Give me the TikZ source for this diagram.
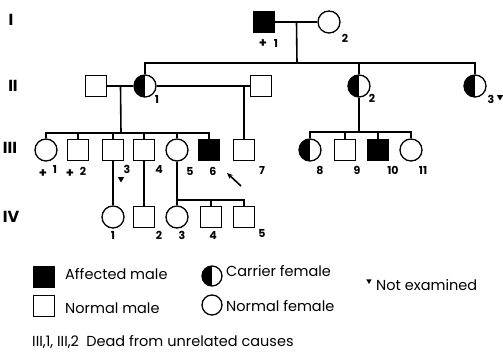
\documentclass[tikz,border=0pt]{standalone}
\usepackage{fontspec}
\setmainfont{Poppins}
\usetikzlibrary{arrows.meta,shapes.geometric,calc}
\tikzset{
  base/.style={inner sep=0pt, text=black},
  male/.style={base, rectangle, draw=black, line width=1.3pt, minimum size=21pt},
  female/.style={base, circle, draw=black, line width=1.3pt, minimum size=22pt},
  affected/.style={male, fill=black},
  carrier/.style={female, path picture={\fill[black] (path picture bounding box.south west) rectangle (path picture bounding box.north);}},
  num/.style={base, font=\fontsize{11}{12}\selectfont\bfseries},
  dead/.style={base, font=\fontsize{13}{14}\selectfont\bfseries},
  gen/.style={base, font=\fontsize{16}{17}\selectfont\bfseries},
  key/.style={base, anchor=west, font=\fontsize{14.5}{15}\selectfont},
  notex/.style={base, regular polygon, regular polygon sides=3, shape border rotate=180, fill=black, minimum size=7pt},
  ln/.style={line width=1.6pt},
  arr/.style={-{Stealth[length=6pt,width=5pt]}, line width=1.6pt},
}
\begin{document}
\begin{tikzpicture}[x=1pt,y=-1pt]
  \useasboundingbox (0,0) rectangle (503,352);
  % generations
  \node[gen] (g1) at (11,20) {I};
  \node[gen] (g2) at (13,86) {II};
  \node[gen] (g3) at (10,148) {III};
  \node[gen] (g4) at (11,217) {IV};
  % generation I
  \node[affected] (i1) at (264,22) {};
  \node[female] (i2) at (329,22) {};
  \node[dead] (d-i1) at (263,44) {+};
  \node[num] (n-i1) at (276,43) {1};
  \node[num] (n-i2) at (345,38) {2};
  % generation II
  \node[male] (h1) at (96,86) {};
  \node[carrier] (ii1) at (145,86) {};
  \node[male] (h2) at (261,86) {};
  \node[carrier] (ii2) at (359,86) {};
  \node[carrier] (ii3) at (475,86) {};
  \node[num] (n-ii1) at (157,99) {1};
  \node[num] (n-ii2) at (372,98) {2};
  \node[num] (n-ii3) at (491,99) {3};
  \node[notex] (x-ii3) at (500,97) {};
  % generation III
  \node[female] (iii1) at (46,150) {};
  \node[male] (iii2) at (78,150) {};
  \node[male] (iii3) at (113,150) {};
  \node[male] (iii4) at (144,150) {};
  \node[female] (iii5) at (177,150) {};
  \node[affected] (iii6) at (209,150) {};
  \node[male] (iii7) at (244,150) {};
  \node[carrier] (iii8) at (310,150) {};
  \node[male] (iii9) at (345,150) {};
  \node[affected] (iii10) at (378,150) {};
  \node[female] (iii11) at (411,150) {};
  \node[dead] (d-iii1) at (43,174) {+};
  \node[dead] (d-iii2) at (70,174) {+};
  \foreach \n/\x/\y/\t in {1/55/169/1, 2/83/171/2, 3/127/169/3, 4/159/170/4, 5/190/171/5, 6/213/171/6,
      7/262/170/7, 8/320/170/8, 9/357/170/9, 10/393/170/10, 11/423/170/11}
    \node[num] (n-iii\n) at (\x,\y) {\t};
  \node[notex] (x-iii3) at (121,179) {};
  \coordinate (pr) at (241,186);
  \coordinate (prtip) at (227,173);
  \draw[arr] (pr) -- (prtip);
  % generation IV
  \node[female] (iv1) at (113,217) {};
  \node[male] (iv2) at (144,217) {};
  \node[female] (iv3) at (177,217) {};
  \node[male] (iv4) at (211,217) {};
  \node[male] (iv5) at (244,217) {};
  \foreach \n/\x/\y in {1/113/235, 2/159/235, 3/182/235, 4/213/236, 5/262/233}
    \node[num] (n-iv\n) at (\x,\y) {\n};
  % lines of descent
  \coordinate (m1) at ($(i1)!0.5!(i2)$);
  \coordinate (s1) at (297,63);
  \draw[ln] (i1) -- (i2);
  \draw[ln] (m1) -- (s1);
  \draw[ln] (ii1) |- (s1) -| (ii3);
  \draw[ln] (s1 -| ii2) -- (ii2);
  \coordinate (m2) at ($(h1)!0.5!(ii1)$);
  \coordinate (s2) at (121,133);
  \draw[ln] (h1) -- (ii1);
  \draw[ln] (m2) -- (s2);
  \draw[ln] (iii1) |- (s2) -| (iii6);
  \foreach \c in {iii2,iii3,iii4,iii5}{\draw[ln] (s2 -| \c) -- (\c);}
  \coordinate (m3) at (244,86);
  \draw[ln] (ii1) -- (h2);
  \draw[ln] (m3) -- (iii7);
  \coordinate (s3) at (359,132);
  \draw[ln] (ii2) -- (s3);
  \draw[ln] (iii8) |- (s3) -| (iii11);
  \foreach \c in {iii9,iii10}{\draw[ln] (s3 -| \c) -- (\c);}
  \draw[ln] (iii3) -- (iv1);
  \draw[ln] (iii4) -- (iv2);
  \coordinate (s4) at (177,200);
  \draw[ln] (iii5) -- (iv3);
  \draw[ln] (s4) -| (iv5);
  \draw[ln] (s4 -| iv4) -- (iv4);
  % legend
  \node[affected] (k1) at (44,277) {};
  \node[key] (t1) at (65,274) {Affected male};
  \node[carrier,minimum size=20pt] (k2) at (212,276) {};
  \node[key] (t2) at (226,271) {Carrier female};
  \node[male] (k3) at (44,306) {};
  \node[key] (t3) at (65,308) {Normal male};
  \node[female,minimum size=20pt] (k4) at (212,305) {};
  \node[key] (t4) at (226,306) {Normal female};
  \node[notex,minimum size=6pt] (k5) at (369,281) {};
  \node[key] (t5) at (376,285) {Not examined};
  \node[key,anchor=base west] (t6) at (32,347) {III,1, III,2\enspace Dead from unrelated causes};
\end{tikzpicture}
\end{document}
